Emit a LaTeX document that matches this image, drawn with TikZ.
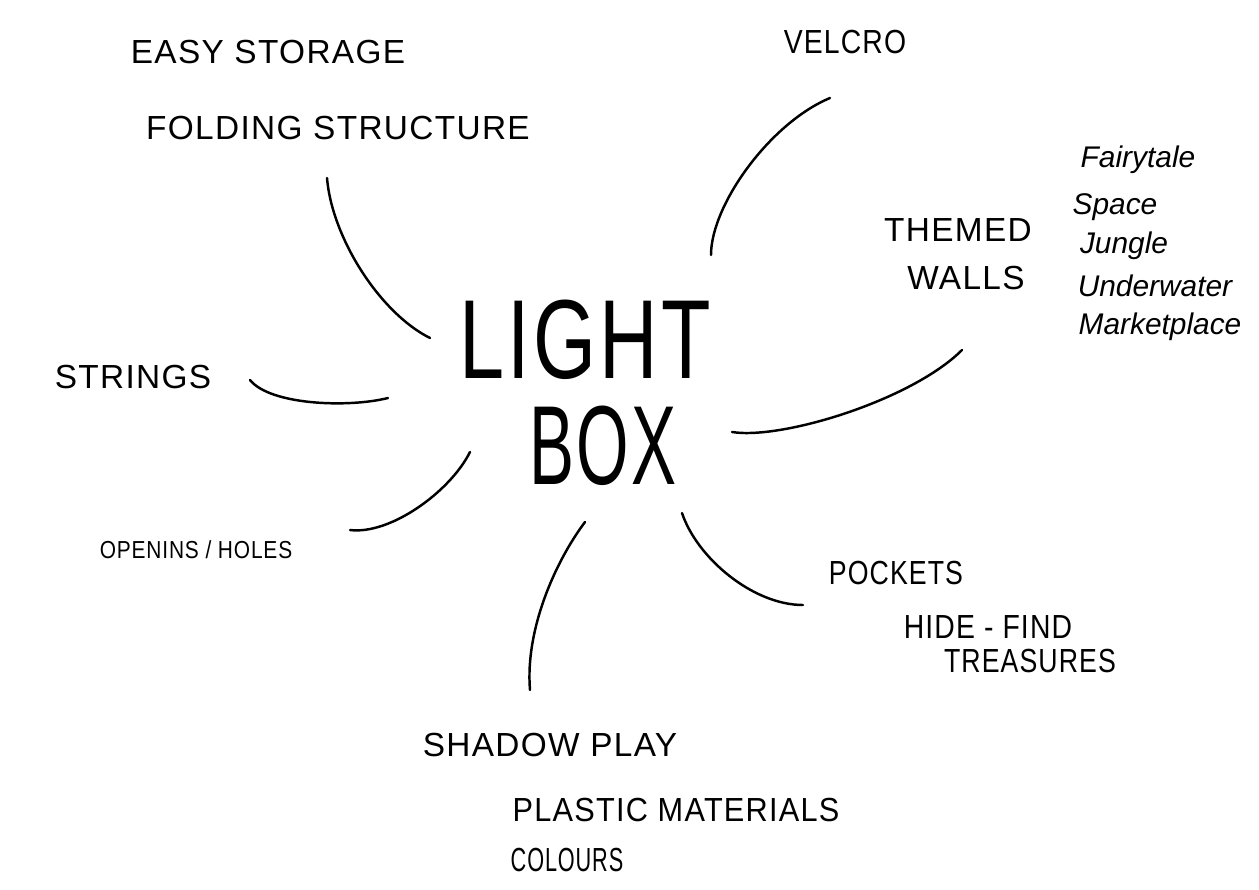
\documentclass[tikz,border=0pt]{standalone}
\usepackage{fontspec}
\setmainfont{Liberation Sans}
\newfontfamily\handfont[LetterSpace=4]{Liberation Sans}
\usepackage{graphicx}
\usepackage{tikz}

\newcommand{\squeeze}[2]{\scalebox{#1}[1]{#2}}

\begin{document}
\begin{tikzpicture}[
  x=0.02cm, y=-0.02cm,
  idea/.style={font=\fontsize{19}{22}\selectfont\handfont, inner sep=1pt},
  small/.style={font=\fontsize{14}{17}\selectfont\handfont, inner sep=1pt},
  theme/.style={font=\fontsize{17}{20}\selectfont\itshape, inner sep=1pt},
  hub/.style={font=\fontsize{64}{70}\selectfont\handfont, inner sep=0pt},
  spoke/.style={line width=1.4pt, line cap=round}
]
\useasboundingbox (0,0) rectangle (1259,890);

% centre
\node[hub] (light) at (585,340) {\scalebox{0.72}[1]{LIGHT}};
\node[hub] (box)   at (603,446) {\scalebox{0.6}[1]{BOX}};

% ideas round it
\node[idea] (easy)  at (268,52)  {EASY STORAGE};
\node[idea] (fold)  at (338,128) {FOLDING STRUCTURE};
\node[idea] (velc)  at (845,42)  {\squeeze{0.85}{VELCRO}};
\node[idea] (them)  at (958,230) {THEMED};
\node[idea] (wall)  at (966,278) {WALLS};
\node[idea] (str)   at (133,377) {STRINGS};
\node[small] (open) at (196,550) {\squeeze{0.85}{OPENINS / HOLES}};
\node[idea] (pock)  at (896,573) {\squeeze{0.8}{POCKETS}};
\node[idea] (hide)  at (988,627) {\squeeze{0.85}{HIDE - FIND}};
\node[idea] (treas) at (1030,661) {\squeeze{0.8}{TREASURES}};
\node[idea] (shad)  at (550,745) {SHADOW PLAY};
\node[idea] (plas)  at (676,810) {\squeeze{0.92}{PLASTIC MATERIALS}};
\node[idea] (col)   at (567,860) {\squeeze{0.65}{COLOURS}};

% themes list
\node[theme] (fairy) at (1138,160) {Fairytale};
\node[theme] (space) at (1115,207) {Space};
\node[theme] (jung)  at (1124,246) {Jungle};
\node[theme] (under) at (1155,286) {Underwater};
\node[theme] (mark)  at (1160,327) {Marketplace};

% spoke ends
\coordinate (s1a) at (327,178); \coordinate (s1b) at (430,338);
\coordinate (s2a) at (830,98);  \coordinate (s2b) at (711,255);
\coordinate (s3a) at (962,350); \coordinate (s3b) at (732,432);
\coordinate (s4a) at (250,380); \coordinate (s4b) at (388,398);
\coordinate (s5a) at (470,452); \coordinate (s5b) at (350,530);
\coordinate (s6a) at (585,522); \coordinate (s6b) at (530,690);
\coordinate (s7a) at (682,513); \coordinate (s7b) at (803,605);

\draw[spoke] (s1a) .. controls +(5,60) and +(-50,-25) .. (s1b);
\draw[spoke] (s2a) .. controls +(-60,25) and +(0,-50) .. (s2b);
\draw[spoke] (s3a) .. controls +(-50,50) and +(50,8) .. (s3b);
\draw[spoke] (s4a) .. controls +(20,25) and +(-40,10) .. (s4b);
\draw[spoke] (s5a) .. controls +(-20,40) and +(40,5) .. (s5b);
\draw[spoke] (s6a) .. controls +(-30,40) and +(-5,-60) .. (s6b);
\draw[spoke] (s7a) .. controls +(15,45) and +(-50,0) .. (s7b);
\end{tikzpicture}
\end{document}
